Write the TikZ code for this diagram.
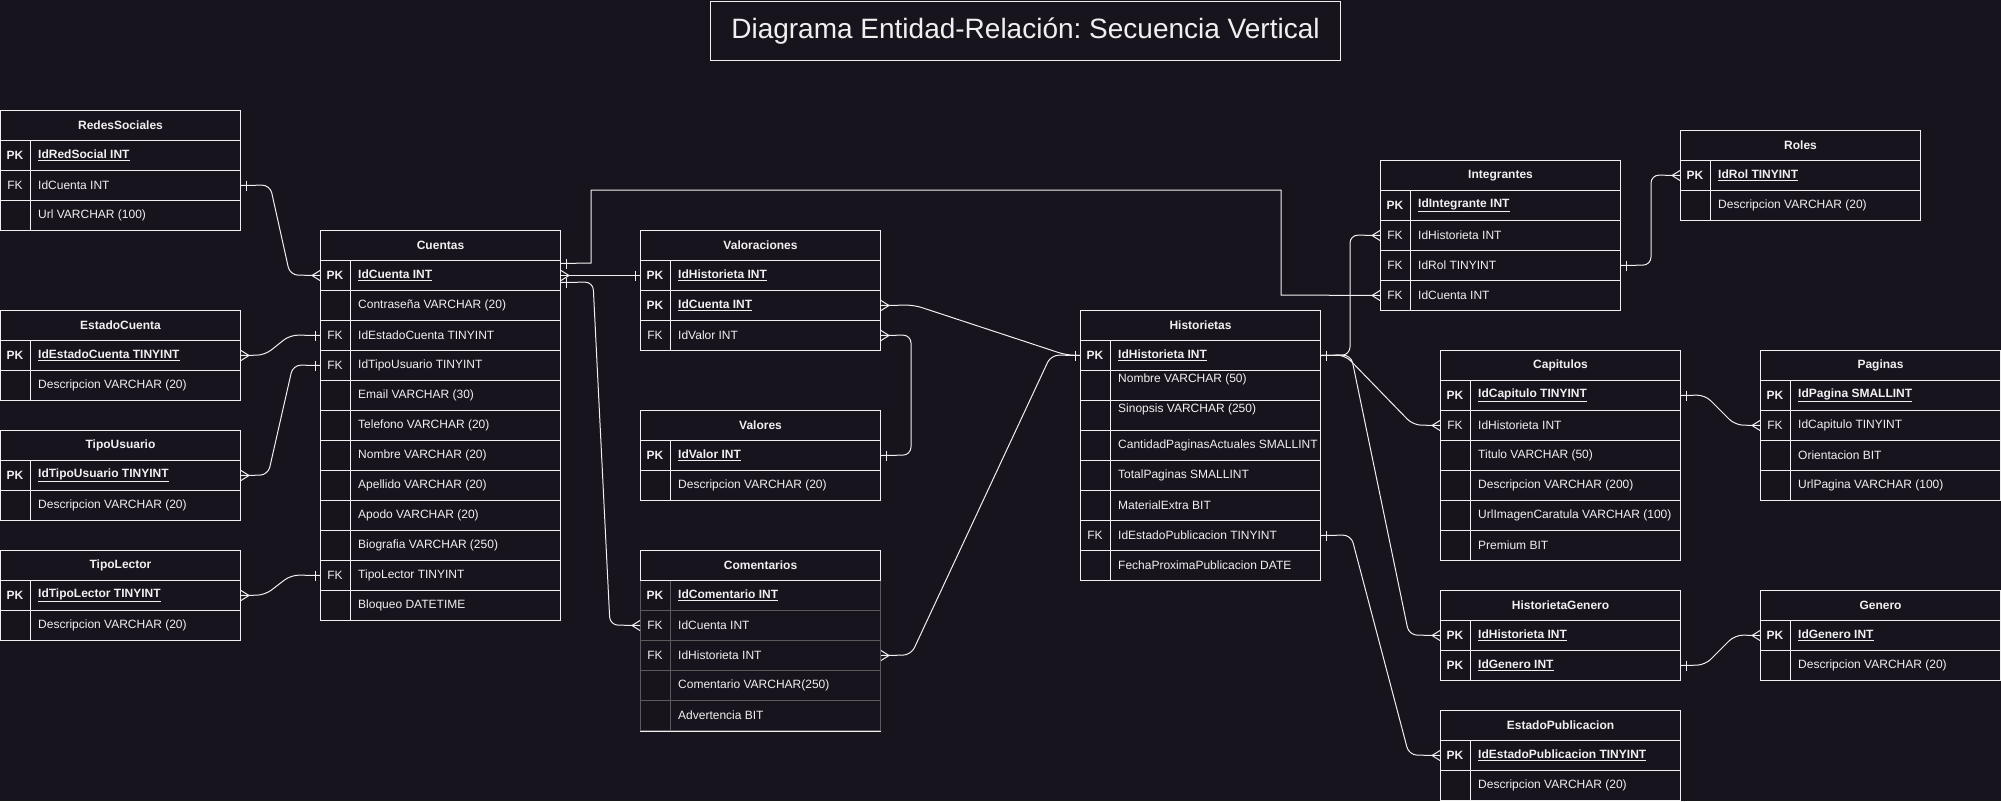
\documentclass[tikz,border=0pt]{standalone}
\usepackage{fontspec}
\setmainfont{Liberation Sans}
\usetikzlibrary{calc}
\frenchspacing
\definecolor{bg}{HTML}{18141D}
\definecolor{fg}{HTML}{F0F0F0}
\definecolor{dim}{HTML}{5A5A5A}
\def\keypk{\textbf{PK}}\def\keyfk{FK}\def\keypl{}\def\keytp{}
\def\fmtpk#1{\textbf{\underline{#1}}}\def\fmtfk#1{#1}\def\fmtpl#1{#1}\def\fmttp#1{#1}
\def\dypk{0}\def\dyfk{0}\def\dypl{0}\def\dytp{-6}
\tikzset{
  rowline/.style={draw=fg, line width=1pt},
  dimline/.style={draw=dim, line width=1pt},
  rowbox/.style={rectangle, minimum width=240pt, minimum height=30pt, anchor=north west, inner sep=0pt},
  hdr/.style={rectangle, draw=fg, line width=1pt, minimum width=240pt, minimum height=30pt, anchor=north west, inner sep=0pt, font=\fontsize{12}{14}\selectfont\bfseries, text=fg},
  keytxt/.style={inner sep=0pt, font=\fontsize{12}{14}\selectfont, text=fg},
  fldtxt/.style={inner sep=0pt, anchor=west, font=\fontsize{12}{14}\selectfont, text=fg},
  conn/.style={draw=fg, line width=1pt},
  rconn/.style={conn, rounded corners=8pt},
  manyW/.pic={\draw[conn] (-8,0) -- (0,-5) (-8,0) -- (0,5);},
  manyE/.pic={\draw[conn] (8,0) -- (0,-5) (8,0) -- (0,5);},
  oneW/.pic={\draw[conn] (-5,-5) -- (-5,5);},
  oneE/.pic={\draw[conn] (5,-5) -- (5,5);},
}
\newcommand\ertab[6][rowline]{%
  \foreach [count=\i] \sty/\fld in {#6} {
    \node[rowbox,#1] (#2-\i) at ({#3},{#4+30*\i}) {};
    \draw[#1] ($(#2-\i.north west)+(30,0)$) -- ($(#2-\i.south west)+(30,0)$);
    \node[keytxt] at ($(#2-\i.west)+(15,0)$) {\csname key\sty\endcsname};
    \node[fldtxt] at ($(#2-\i.west)+(38,\csname dy\sty\endcsname)$) {\csname fmt\sty\endcsname{\fld}};
  }
  \node[hdr] (#2) at (#3,#4) {#5};
}
\begin{document}
\begin{tikzpicture}[x=1pt,y=-1pt]
\fill[bg] (0,0) rectangle (2001,801);
\useasboundingbox (0,0) rectangle (2001,801);

\node[draw=fg, line width=1pt, minimum width=630pt, minimum height=59pt, inner sep=0pt, anchor=north west,
  font=\fontsize{28}{32}\selectfont, text=fg] (title) at (710,1) {Diagrama Entidad-Relación: Secuencia Vertical};

\ertab{rs}{0}{110}{RedesSociales}{pk/IdRedSocial INT, fk/IdCuenta INT, pl/Url VARCHAR (100)}
\ertab{ec}{0}{310}{EstadoCuenta}{pk/IdEstadoCuenta TINYINT, pl/Descripcion VARCHAR (20)}
\ertab{tu}{0}{430}{TipoUsuario}{pk/IdTipoUsuario TINYINT, pl/Descripcion VARCHAR (20)}
\ertab{tl}{0}{550}{TipoLector}{pk/IdTipoLector TINYINT, pl/Descripcion VARCHAR (20)}
\ertab{cu}{320}{230}{Cuentas}{pk/IdCuenta INT, pl/Contraseña VARCHAR (20), fk/IdEstadoCuenta TINYINT, fk/IdTipoUsuario TINYINT, pl/Email VARCHAR (30), pl/Telefono VARCHAR (20), pl/Nombre VARCHAR (20), pl/Apellido VARCHAR (20), pl/Apodo VARCHAR (20), pl/Biografia VARCHAR (250), fk/TipoLector TINYINT, pl/Bloqueo DATETIME}
\ertab{va}{640}{230}{Valoraciones}{pk/IdHistorieta INT, pk/IdCuenta INT, fk/IdValor INT}
\ertab{vl}{640}{410}{Valores}{pk/IdValor INT, pl/Descripcion VARCHAR (20)}
\ertab[dimline]{co}{640}{550}{Comentarios}{pk/IdComentario INT, fk/IdCuenta INT, fk/IdHistorieta INT, pl/Comentario VARCHAR(250), pl/Advertencia BIT}
\draw[rowline] (co-5.south west) -- (co-5.south east);
\ertab{hi}{1080}{310}{Historietas}{pk/IdHistorieta INT, tp/Nombre VARCHAR (50), tp/Sinopsis VARCHAR (250), pl/CantidadPaginasActuales SMALLINT, pl/TotalPaginas SMALLINT, pl/MaterialExtra BIT, fk/IdEstadoPublicacion TINYINT, pl/FechaProximaPublicacion DATE}
\ertab{in}{1380}{160}{Integrantes}{pk/IdIntegrante INT, fk/IdHistorieta INT, fk/IdRol TINYINT, fk/IdCuenta INT}
\ertab{ro}{1680}{130}{Roles}{pk/IdRol TINYINT, pl/Descripcion VARCHAR (20)}
\ertab{ca}{1440}{350}{Capitulos}{pk/IdCapitulo TINYINT, fk/IdHistorieta INT, pl/Titulo VARCHAR (50), pl/Descripcion VARCHAR (200), pl/UrlImagenCaratula VARCHAR (100), pl/Premium BIT}
\ertab{pa}{1760}{350}{Paginas}{pk/IdPagina SMALLINT, fk/IdCapitulo TINYINT, pl/Orientacion BIT, pl/UrlPagina VARCHAR (100)}
\ertab{hg}{1440}{590}{HistorietaGenero}{pk/IdHistorieta INT, pk/IdGenero INT}
\ertab{ge}{1760}{590}{Genero}{pk/IdGenero INT, pl/Descripcion VARCHAR (20)}
\ertab{ep}{1440}{710}{EstadoPublicacion}{pk/IdEstadoPublicacion TINYINT, pl/Descripcion VARCHAR (20)}

% connectors
\coordinate (cuA) at ($(cu-1.east)+(0,-12)$);
\coordinate (cuB) at ($(cu-1.east)+(0,7)$);
\draw[rconn] (rs-2.east) -- (270,185) -- (290,275) -- (cu-1.west);
\pic at (rs-2.east) {oneE}; \pic at (cu-1.west) {manyW};
\draw[rconn] (ec-1.east) -- (265,355) -- (290,335) -- (cu-3.west);
\pic at (ec-1.east) {manyE}; \pic at (cu-3.west) {oneW};
\draw[rconn] (tu-1.east) -- (268,475) -- (293,365) -- (cu-4.west);
\pic at (tu-1.east) {manyE}; \pic at (cu-4.west) {oneW};
\draw[rconn] (tl-1.east) -- (265,595) -- (291,575) -- (cu-11.west);
\pic at (tl-1.east) {manyE}; \pic at (cu-11.west) {oneW};
\draw[conn] (cu-1.east) -- (va-1.west);
\pic at (cu-1.east) {manyE}; \pic at (va-1.west) {oneW};
\draw[conn] (cuA) -- (591,263) -- (591,190) -- (1281,190) -- (1281,295) -- (in-4.west);
\pic at (cuA) {oneE}; \pic at (in-4.west) {manyW};
\draw[rconn] (cuB) -- (593,282) -- (610,625) -- (co-2.west);
\pic at (cuB) {oneE}; \pic at (co-2.west) {manyW};
\draw[rconn] (va-2.east) -- (914,305) -- (1066,355) -- (hi-1.west);
\pic at (va-2.east) {manyE}; \pic at (hi-1.west) {oneW};
\draw[rconn] (va-3.east) -- (911,335) -- (911,455) -- (vl-1.east);
\pic at (va-3.east) {manyE}; \pic at (vl-1.east) {oneE};
\draw[rconn] (co-3.east) -- (911,655) -- (1051,355) -- (hi-1.west);
\pic at (co-3.east) {manyE};
\draw[rconn] (hi-1.east) -- (1350,355) -- (1350,235) -- (in-2.west);
\pic at (hi-1.east) {oneE}; \pic at (in-2.west) {manyW};
\draw[rconn] (hi-1.east) -- (1345,355) -- (1413,425) -- (ca-2.west);
\pic at (ca-2.west) {manyW};
\draw[rconn] (hi-1.east) -- (1351,355) -- (1409,635) -- (hg-1.west);
\pic at (hg-1.west) {manyW};
\draw[rconn] (hi-7.east) -- (1351,535) -- (1409,755) -- (ep-1.west);
\pic at (hi-7.east) {oneE}; \pic at (ep-1.west) {manyW};
\draw[rconn] (in-3.east) -- (1651,265) -- (1651,175) -- (ro-1.west);
\pic at (in-3.east) {oneE}; \pic at (ro-1.west) {manyW};
\draw[rconn] (ca-1.east) -- (1705,395) -- (1735,425) -- (pa-2.west);
\pic at (ca-1.east) {oneE}; \pic at (pa-2.west) {manyW};
\draw[rconn] (hg-2.east) -- (1705,665) -- (1735,635) -- (ge-1.west);
\pic at (hg-2.east) {oneE}; \pic at (ge-1.west) {manyW};
\end{tikzpicture}
\end{document}
